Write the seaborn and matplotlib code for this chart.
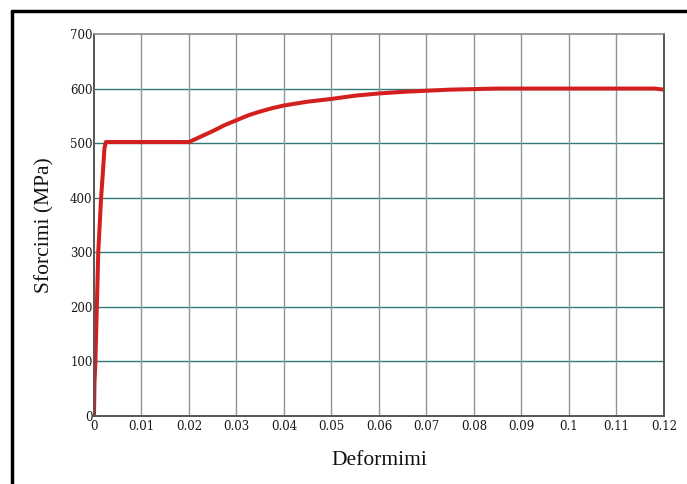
import numpy as np
import pandas as pd
import matplotlib
matplotlib.use("Agg")
import matplotlib.pyplot as plt
from matplotlib.lines import Line2D
import seaborn as sns

# strain / stress
strain = [0.0, 0.0001, 0.0003, 0.0006, 0.0009, 0.0012, 0.0015, 0.0019, 0.0022, 0.0025,
          0.0100, 0.0200, 0.0215, 0.0230, 0.0250, 0.0275, 0.0300, 0.0325, 0.0350,
          0.0375, 0.0400, 0.0450, 0.0500, 0.0550, 0.0600, 0.0650, 0.0700, 0.0750,
          0.0800, 0.0850, 0.1000, 0.1180, 0.1200]
stress = [0, 60, 100, 200, 300, 350, 400, 450, 490, 502,
          502, 502, 508, 514, 522, 533, 542, 551, 558,
          564, 569, 576, 581, 587, 591, 594, 596, 598,
          599, 600, 600, 600, 598]

x_ticks = [0, 0.01, 0.02, 0.03, 0.04, 0.05, 0.06, 0.07, 0.08, 0.09, 0.1, 0.11, 0.12]
x_labels = ["0", "0.01", "0.02", "0.03", "0.04", "0.05", "0.06", "0.07", "0.08", "0.09", "0.1", "0.11", "0.12"]
y_ticks = [0, 100, 200, 300, 400, 500, 600, 700]

df = pd.DataFrame({"strain": strain, "stress": stress})

sns.set_style("white")
plt.rcParams['font.family'] = ['Liberation Serif', 'DejaVu Serif']

fig = plt.figure(figsize=(6.87, 4.84), dpi=100)
ax = fig.add_axes([0.1368, 0.1405, 0.8297, 0.7893])

sns.lineplot(data=df, x="strain", y="stress", ax=ax, color="#d41f1f",
             linewidth=2.9, estimator=None, sort=False)

ax.set_xlim(0, 0.12)
ax.set_ylim(0, 700)
ax.set_xticks(x_ticks)
ax.set_xticklabels(x_labels)
ax.set_yticks(y_ticks)

# grid: teal horizontals, grey verticals
for yv in y_ticks[1:-1]:
    ax.axhline(yv, color="#2f7a78", linewidth=1.0, zorder=0)
for xv in x_ticks[1:-1]:
    ax.axvline(xv, color="#86999a", linewidth=1.0, zorder=0)

ax.tick_params(axis="both", length=0, colors="#1a1a1a", pad=3)
ax.tick_params(axis="y", pad=1)
for lab in ax.get_xticklabels() + ax.get_yticklabels():
    lab.set_family(['DejaVu Serif'])
    lab.set_fontsize(8.5)

for side in ["left", "bottom", "right"]:
    ax.spines[side].set_color("#555555")
    ax.spines[side].set_linewidth(1.4)
ax.spines["top"].set_color("#8a8a8a")
ax.spines["top"].set_linewidth(1.2)

ax.set_xlabel("Deformimi", fontsize=15.5, labelpad=13, color="#111111")
ax.set_ylabel("Sforcimi (MPa)", fontsize=15.5, labelpad=11, color="#111111")

# outer frame (left and top edges visible in the reference)
fig.add_artist(Line2D([12 / 687, 12 / 687], [0, 1 - 11 / 484], transform=fig.transFigure,
                      color="black", linewidth=2.5))
fig.add_artist(Line2D([12 / 687, 1], [1 - 11 / 484, 1 - 11 / 484], transform=fig.transFigure,
                      color="black", linewidth=2.5))

fig.savefig("out.png", dpi=100)
